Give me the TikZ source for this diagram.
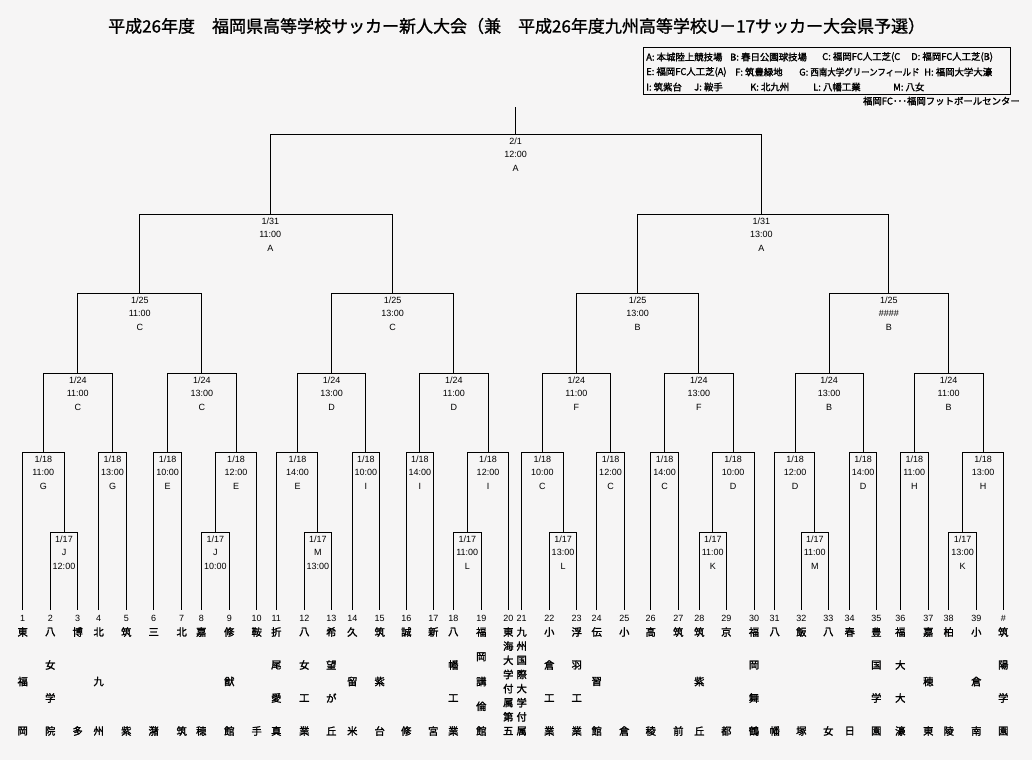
\documentclass[tikz,border=0pt]{standalone}
\usepackage{fontspec}
\setmainfont{Liberation Sans}
\newfontfamily\jp{Noto Sans CJK JP}
\newfontfamily\jpb[FakeBold=1.8]{Noto Sans CJK JP}
\newfontfamily\jpt[FakeBold=1.2]{Noto Sans CJK JP}
\definecolor{bgcol}{RGB}{246,245,245}
\tikzset{
  br/.style={line width=0.9pt, black},
  lbl/.style={font=\fontsize{9}{9}\selectfont, inner sep=0pt, text height=6.6pt, text depth=0pt},
  numlbl/.style={font=\fontsize{9}{9}\selectfont, inner sep=0pt, text height=6.6pt, text depth=0pt},
  teamch/.style={font=\jpb\fontsize{10.3}{10.3}\selectfont, inner sep=0pt},
  legtxt/.style={font=\jpb\fontsize{9.4}{9.4}\selectfont, inner sep=0pt, anchor=west},
}
\newcommand\mt[6]{%
  \coordinate (#1) at (#2,#3);
  \node[lbl] (#1-a) at (#2,#3+6.7) {#4};
  \node[lbl] (#1-b) at (#2,#3+20.2) {#5};
  \node[lbl] (#1-c) at (#2,#3+33.6) {#6};
}
\newcommand\team[5]{%
  \coordinate (#1) at (#2,610);
  \node[numlbl] (#1-n) at (#2,618) {#3};
  \foreach \ch [count=\k] in {#5} {
    \pgfmathsetmacro\yy{632+(\k-1)*99/(#4-1)}
    \node[teamch] (#1-\k) at (#2,\yy) {\ch};
  }
}
\begin{document}
\begin{tikzpicture}[x=1pt,y=-1pt]
\fill[bgcol] (0,0) rectangle (1032,760);
\useasboundingbox (0,0) rectangle (1032,760);

% title
\node[font=\jpt\fontsize{17}{17}\selectfont, inner sep=0pt, anchor=west] (title) at (108,26)
  {平成26年度　福岡県高等学校サッカー新人大会（兼　平成26年度九州高等学校U－17サッカー大会県予選）};

% legend
\node[draw, line width=0.9pt, inner sep=0pt, anchor=north west, minimum width=367pt, minimum height=47pt] (legend) at (643,47) {};
\node[legtxt] (lA) at (646,57) {A: 本城陸上競技場};
\node[legtxt] (lB) at (730,57) {B: 春日公園球技場};
\node[legtxt] (lC) at (822,57) {C: 福岡FC人工芝(C};
\node[legtxt] (lD) at (911,57) {D: 福岡FC人工芝(B)};
\node[legtxt] (lE) at (646,72) {E: 福岡FC人工芝(A)};
\node[legtxt] (lF) at (735,72) {F: 筑豊緑地};
\node[legtxt] (lG) at (799,72) {G: \scalebox{0.9}[1]{西南大学グリーンフィールド}};
\node[legtxt] (lH) at (924,72) {H: 福岡大学大濠};
\node[legtxt] (lI) at (646,87) {I: 筑紫台};
\node[legtxt] (lJ) at (694,87) {J: 鞍手};
\node[legtxt] (lK) at (750,87) {K: 北九州};
\node[legtxt] (lL) at (813,87) {L: 八幡工業};
\node[legtxt] (lM) at (893,87) {M: 八女};
\node[legtxt, anchor=east] (footer) at (1020,101) {福岡FC･･･福岡フットボールセンター};

% teams
\team{t1}{22.7}{1}{3}{東,福,岡}
\team{t2}{50.3}{2}{4}{八,女,学,院}
\team{t3}{77.7}{3}{2}{博,多}
\team{t4}{98.7}{4}{3}{北,九,州}
\team{t5}{126.3}{5}{2}{筑,紫}
\team{t6}{153.7}{6}{2}{三,潴}
\team{t7}{181.7}{7}{2}{北,筑}
\team{t8}{201.3}{8}{2}{嘉,穂}
\team{t9}{229.3}{9}{3}{修,猷,館}
\team{t10}{256.7}{10}{2}{鞍,手}
\team{t11}{276.3}{11}{4}{折,尾,愛,真}
\team{t12}{304.3}{12}{4}{八,女,工,業}
\team{t13}{331.3}{13}{4}{希,望,が,丘}
\team{t14}{352.3}{14}{3}{久,留,米}
\team{t15}{379.7}{15}{3}{筑,紫,台}
\team{t16}{406.3}{16}{2}{誠,修}
\team{t17}{433.3}{17}{2}{新,宮}
\team{t18}{453.3}{18}{4}{八,幡,工,業}
\team{t19}{481.3}{19}{5}{福,岡,講,倫,館}
\team{t20}{508.3}{20}{8}{東,海,大,学,付,属,第,五}
\team{t21}{521.7}{21}{8}{九,州,国,際,大,学,付,属}
\team{t22}{549.3}{22}{4}{小,倉,工,業}
\team{t23}{576.7}{23}{4}{浮,羽,工,業}
\team{t24}{596.7}{24}{3}{伝,習,館}
\team{t25}{624.3}{25}{2}{小,倉}
\team{t26}{650.7}{26}{2}{高,稜}
\team{t27}{678.3}{27}{2}{筑,前}
\team{t28}{699.3}{28}{3}{筑,紫,丘}
\team{t29}{726.3}{29}{2}{京,都}
\team{t30}{754}{30}{4}{福,岡,舞,鶴}
\team{t31}{774.7}{31}{2}{八,幡}
\team{t32}{801.3}{32}{2}{飯,塚}
\team{t33}{828.3}{33}{2}{八,女}
\team{t34}{849.7}{34}{2}{春,日}
\team{t35}{876.3}{35}{4}{豊,国,学,園}
\team{t36}{900.3}{36}{4}{福,大,大,濠}
\team{t37}{928.3}{37}{3}{嘉,穂,東}
\team{t38}{948.7}{38}{2}{柏,陵}
\team{t39}{976.3}{39}{3}{小,倉,南}
\team{t40}{1003.3}{\#}{4}{筑,陽,学,園}

% preliminary round
\mt{p1}{64}{532.3}{1/17}{J}{12:00}
\mt{p2}{215.3}{532.3}{1/17}{J}{10:00}
\mt{p3}{317.8}{532.3}{1/17}{M}{13:00}
\mt{p4}{467.3}{532.3}{1/17}{11:00}{L}
\mt{p5}{563}{532.3}{1/17}{13:00}{L}
\mt{p6}{712.8}{532.3}{1/17}{11:00}{K}
\mt{p7}{814.8}{532.3}{1/17}{11:00}{M}
\mt{p8}{962.5}{532.3}{1/17}{13:00}{K}

% round 1
\mt{r1}{43.3}{452.3}{1/18}{11:00}{G}
\mt{r2}{112.5}{452.3}{1/18}{13:00}{G}
\mt{r3}{167.7}{452.3}{1/18}{10:00}{E}
\mt{r4}{236}{452.3}{1/18}{12:00}{E}
\mt{r5}{297.5}{452.3}{1/18}{14:00}{E}
\mt{r6}{365.8}{452.3}{1/18}{10:00}{I}
\mt{r7}{419.8}{452.3}{1/18}{14:00}{I}
\mt{r8}{488}{452.3}{1/18}{12:00}{I}
\mt{r9}{542.3}{452.3}{1/18}{10:00}{C}
\mt{r10}{610.5}{452.3}{1/18}{12:00}{C}
\mt{r11}{664.5}{452.3}{1/18}{14:00}{C}
\mt{r12}{733.2}{452.3}{1/18}{10:00}{D}
\mt{r13}{795}{452.3}{1/18}{12:00}{D}
\mt{r14}{863}{452.3}{1/18}{14:00}{D}
\mt{r15}{914.3}{452.3}{1/18}{11:00}{H}
\mt{r16}{983}{452.3}{1/18}{13:00}{H}

% round 2
\mt{q1}{77.8}{373.3}{1/24}{11:00}{C}
\mt{q2}{201.8}{373.3}{1/24}{13:00}{C}
\mt{q3}{331.6}{373.3}{1/24}{13:00}{D}
\mt{q4}{453.9}{373.3}{1/24}{11:00}{D}
\mt{q5}{576.4}{373.3}{1/24}{11:00}{F}
\mt{q6}{698.8}{373.3}{1/24}{13:00}{F}
\mt{q7}{829}{373.3}{1/24}{13:00}{B}
\mt{q8}{948.6}{373.3}{1/24}{11:00}{B}

% round 3
\mt{s1}{139.8}{293.3}{1/25}{11:00}{C}
\mt{s2}{392.7}{293.3}{1/25}{13:00}{C}
\mt{s3}{637.6}{293.3}{1/25}{13:00}{B}
\mt{s4}{888.8}{293.3}{1/25}{\#\#\#\#}{B}

% semifinal
\mt{h1}{270.3}{214.3}{1/31}{11:00}{A}
\mt{h2}{761.3}{214.3}{1/31}{13:00}{A}

% final
\mt{fin}{515.7}{134.3}{2/1}{12:00}{A}
\coordinate (fintop) at (515.7,107);

% connectors
\draw[br] (t1) |- (r1) -| (p1);
\draw[br] (t2) |- (p1) -| (t3);
\draw[br] (t4) |- (r2) -| (t5);
\draw[br] (t6) |- (r3) -| (t7);
\draw[br] (p2) |- (r4) -| (t10);
\draw[br] (t8) |- (p2) -| (t9);
\draw[br] (t11) |- (r5) -| (p3);
\draw[br] (t12) |- (p3) -| (t13);
\draw[br] (t14) |- (r6) -| (t15);
\draw[br] (t16) |- (r7) -| (t17);
\draw[br] (p4) |- (r8) -| (t20);
\draw[br] (t18) |- (p4) -| (t19);
\draw[br] (t21) |- (r9) -| (p5);
\draw[br] (t22) |- (p5) -| (t23);
\draw[br] (t24) |- (r10) -| (t25);
\draw[br] (t26) |- (r11) -| (t27);
\draw[br] (p6) |- (r12) -| (t30);
\draw[br] (t28) |- (p6) -| (t29);
\draw[br] (t31) |- (r13) -| (p7);
\draw[br] (t32) |- (p7) -| (t33);
\draw[br] (t34) |- (r14) -| (t35);
\draw[br] (t36) |- (r15) -| (t37);
\draw[br] (p8) |- (r16) -| (t40);
\draw[br] (t38) |- (p8) -| (t39);

\draw[br] (r1) |- (q1) -| (r2);
\draw[br] (r3) |- (q2) -| (r4);
\draw[br] (r5) |- (q3) -| (r6);
\draw[br] (r7) |- (q4) -| (r8);
\draw[br] (r9) |- (q5) -| (r10);
\draw[br] (r11) |- (q6) -| (r12);
\draw[br] (r13) |- (q7) -| (r14);
\draw[br] (r15) |- (q8) -| (r16);

\draw[br] (q1) |- (s1) -| (q2);
\draw[br] (q3) |- (s2) -| (q4);
\draw[br] (q5) |- (s3) -| (q6);
\draw[br] (q7) |- (s4) -| (q8);

\draw[br] (s1) |- (h1) -| (s2);
\draw[br] (s3) |- (h2) -| (s4);

\draw[br] (h1) |- (fin) -| (h2);
\draw[br] (fin) -- (fintop);
\end{tikzpicture}
\end{document}
